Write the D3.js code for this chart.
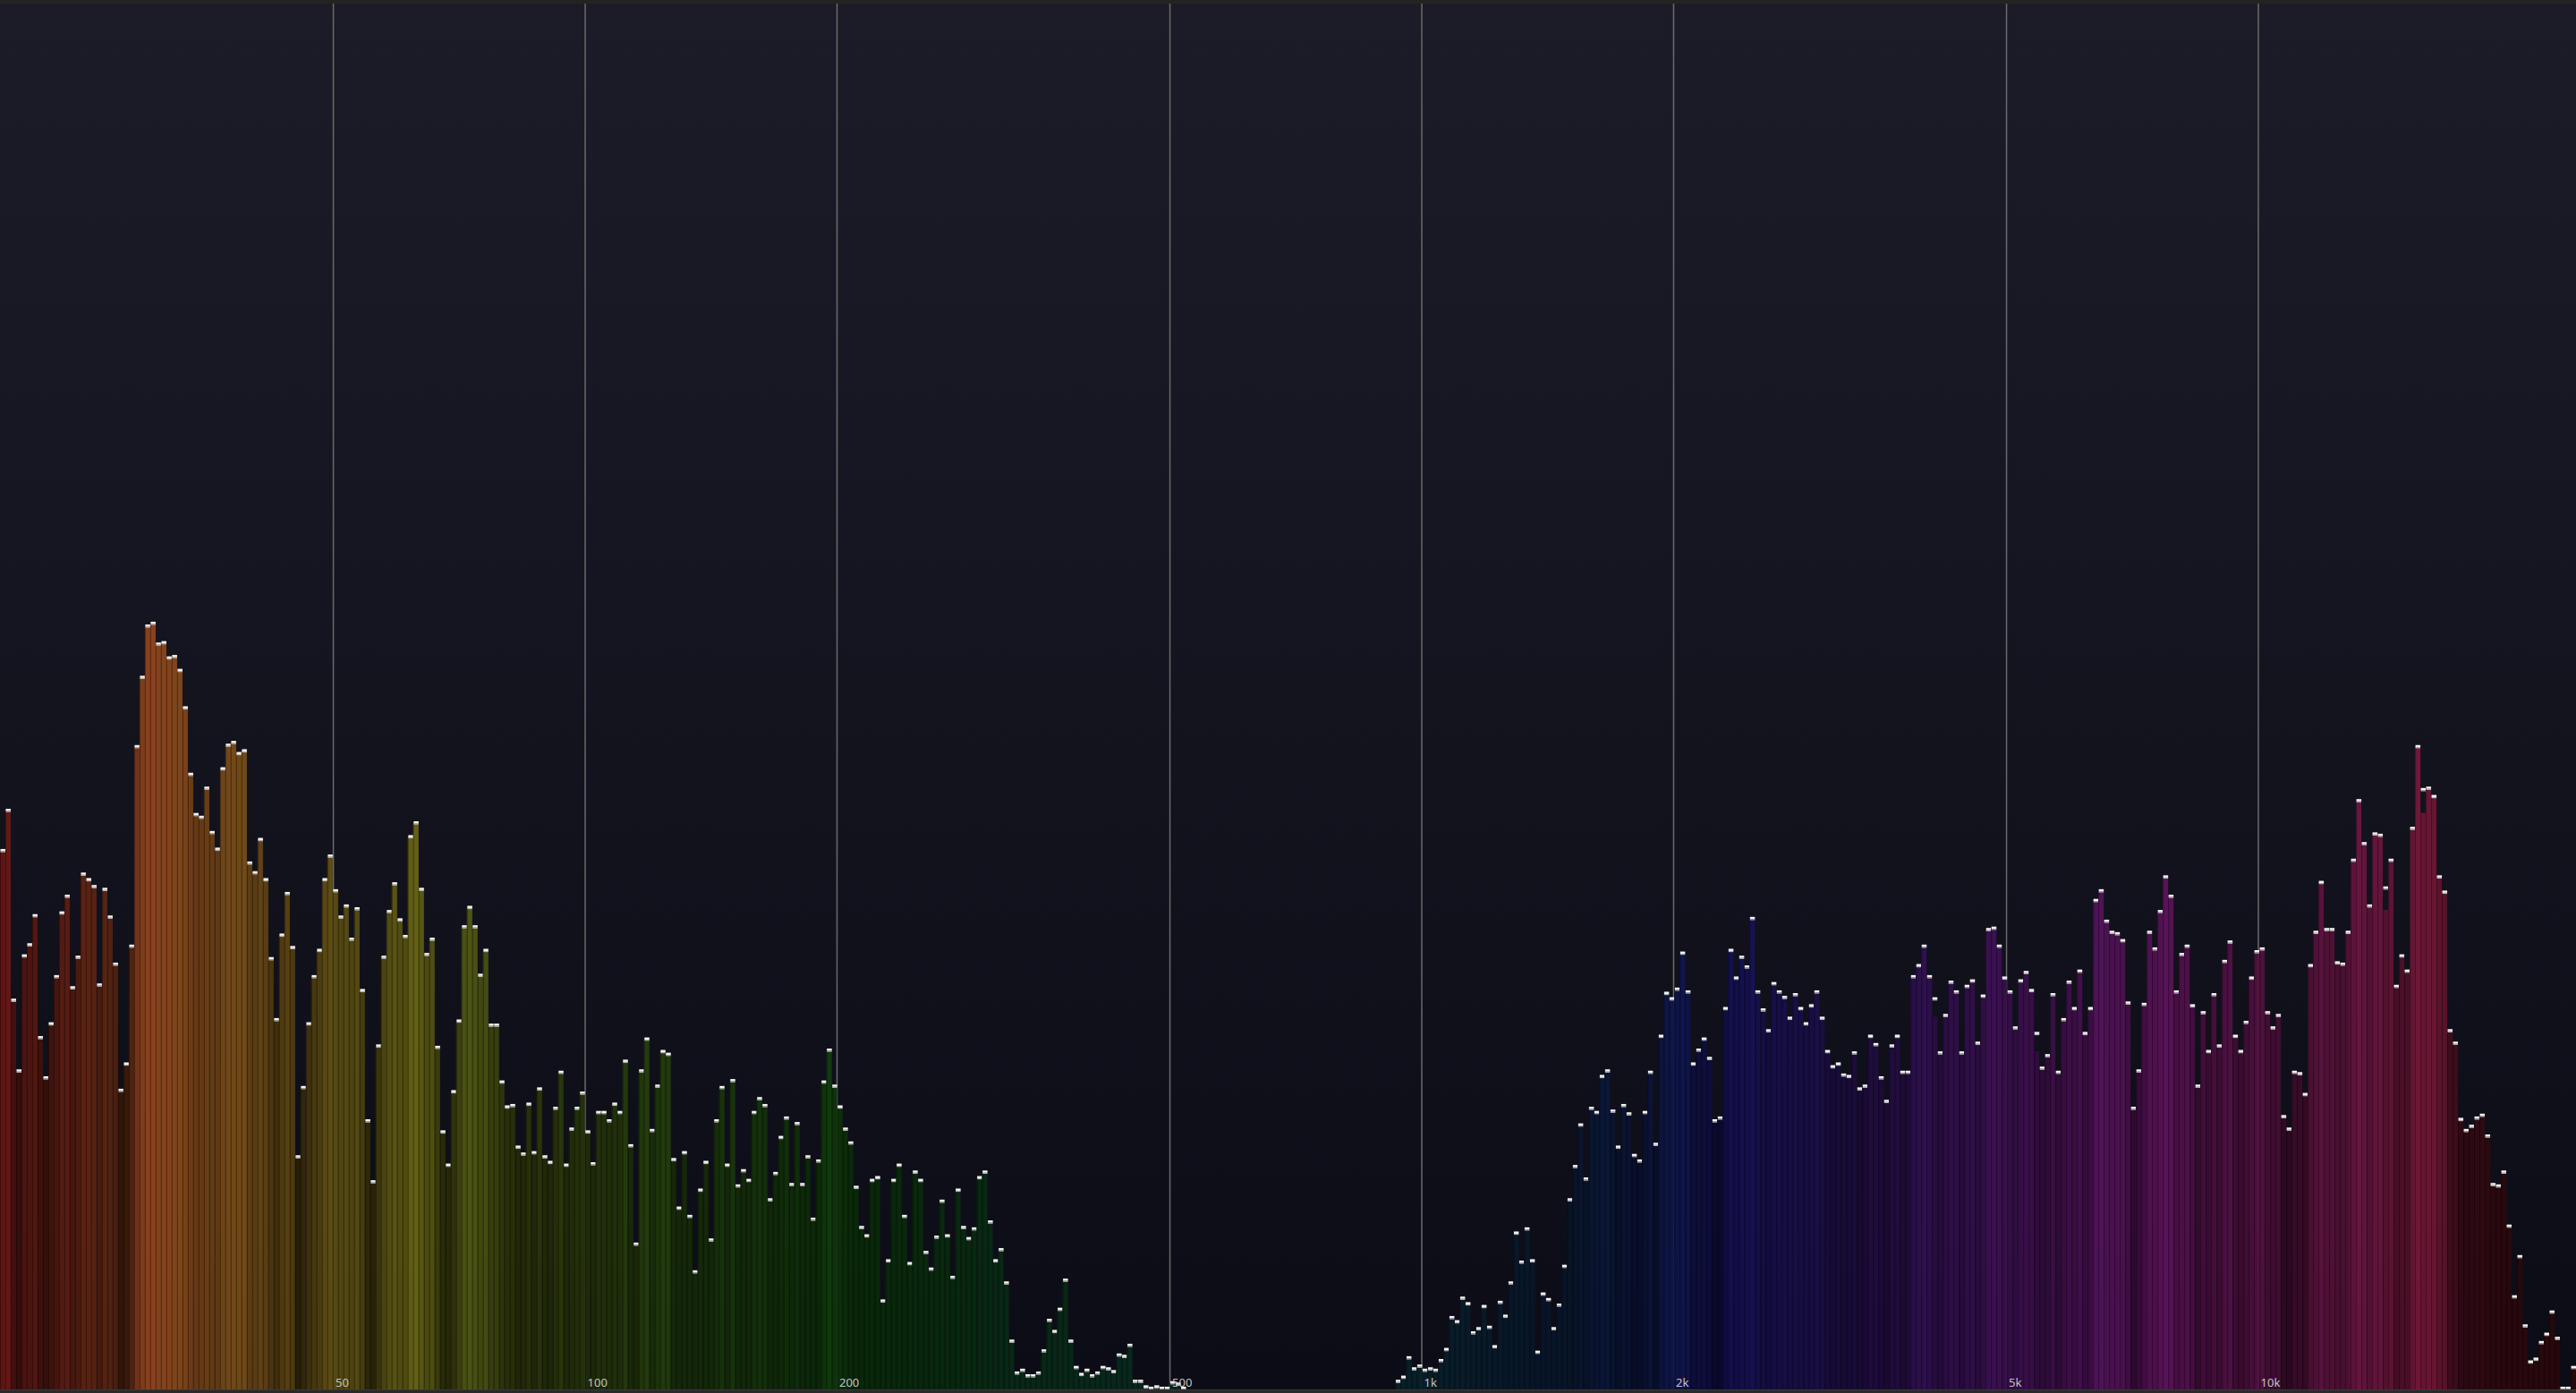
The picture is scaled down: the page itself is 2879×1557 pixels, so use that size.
<!DOCTYPE html>
<html>
<head>
<meta charset="utf-8">
<script src="https://cdn.jsdelivr.net/npm/d3@7"></script>
<style>
  html, body { margin: 0; padding: 0; background: #101019; overflow: hidden; }
  svg { display: block; }
</style>
</head>
<body>
<div id="spectrum"></div>
<script>
// Frequency range of the analyzer (Hz) and number of log-spaced bands
var F_MIN = 20;
var F_MAX = 24000;
var BAND_COUNT = 480;

var tickFreqs = [50, 100, 200, 500, 1000, 2000, 5000, 10000];
var tickLabels = ['50', '100', '200', '500', '1k', '2k', '5k', '10k'];

// Level of every band, 0..100 (% of plot height)
var levels = [
    38.9, 41.8, 28.1, 23.0, 31.3, 32.1, 34.2, 25.4, 22.5, 26.4,
    29.8, 34.4, 35.6, 29.0, 31.2, 37.2, 36.8, 36.3, 29.2, 36.1,
    34.1, 30.7, 21.6, 23.5, 32.0, 46.4, 51.4, 55.1, 55.3, 53.8,
    53.9, 52.8, 52.9, 51.9, 49.2, 44.4, 41.5, 41.3, 43.4, 40.2,
    39.0, 44.8, 46.5, 46.7, 45.9, 46.1, 38.0, 37.3, 39.7, 36.8,
    31.1, 26.7, 32.8, 35.8, 31.9, 16.8, 21.8, 26.4, 29.8, 31.7,
    36.8, 38.5, 36.0, 34.1, 34.9, 32.5, 34.7, 28.8, 19.4, 15.0,
    24.8, 31.2, 34.5, 36.5, 33.9, 32.7, 39.9, 40.9, 36.1, 31.4,
    32.5, 24.7, 18.6, 16.2, 21.5, 26.6, 33.4, 34.8, 33.4, 29.9,
    31.7, 26.3, 26.3, 22.2, 20.4, 20.5, 17.5, 17.0, 20.6, 17.1,
    21.7, 16.8, 16.4, 20.3, 22.9, 16.2, 18.8, 20.3, 21.4, 18.6,
    16.3, 20.0, 20.0, 19.4, 20.6, 20.0, 23.7, 17.6, 10.5, 23.0,
    25.3, 18.7, 21.9, 24.4, 24.2, 16.6, 13.1, 17.1, 12.5, 8.5,
    14.4, 16.4, 10.8, 19.4, 21.8, 16.2, 22.3, 14.7, 15.8, 15.1,
    20.0, 21.0, 20.5, 13.7, 15.6, 18.2, 19.6, 14.8, 19.2, 14.8,
    16.8, 12.3, 16.5, 22.2, 24.5, 21.9, 20.4, 18.8, 17.8, 14.6,
    11.7, 11.1, 15.1, 15.3, 6.4, 9.3, 15.1, 16.2, 12.5, 9.1,
    15.7, 15.1, 9.9, 8.7, 11.0, 13.6, 11.1, 8.1, 14.4, 11.7,
    10.9, 11.6, 15.3, 15.7, 12.1, 9.3, 10.1, 7.7, 3.5, 1.2,
    1.4, 1.0, 1.0, 1.2, 2.8, 5.0, 4.2, 5.8, 7.9, 3.5,
    1.6, 1.1, 1.4, 1.0, 1.2, 1.6, 1.5, 1.3, 2.5, 2.4,
    3.2, 0.6, 0.6, 0.2, 0.1, 0.2, 0.1, 0.1, 0.5, 0.4,
    0.1, 0, 0, 0, 0, 0, 0, 0, 0, 0,
    0, 0, 0, 0, 0, 0, 0, 0, 0, 0,
    0, 0, 0, 0, 0, 0, 0, 0, 0, 0,
    0, 0, 0, 0, 0, 0, 0, 0, 0, 0,
    0.6, 0.9, 2.3, 1.5, 1.7, 1.4, 1.5, 1.4, 2.1, 2.9,
    5.2, 4.9, 6.6, 6.2, 4.1, 4.4, 6.0, 4.5, 3.1, 6.3,
    5.3, 7.7, 11.3, 9.2, 11.6, 9.3, 2.7, 6.9, 6.5, 4.4,
    6.1, 8.9, 13.7, 16.1, 19.1, 15.2, 20.3, 20.0, 22.6, 23.0,
    20.1, 17.5, 20.5, 19.9, 16.9, 16.5, 20.0, 22.9, 17.7, 25.5,
    28.6, 28.2, 28.9, 31.5, 28.7, 23.5, 24.5, 25.3, 23.9, 19.4,
    19.6, 27.5, 31.7, 29.7, 31.2, 30.5, 34.0, 28.7, 27.4, 25.9,
    29.3, 28.7, 28.3, 26.8, 28.5, 27.5, 26.4, 27.7, 28.7, 26.8,
    24.4, 23.3, 23.5, 22.7, 22.6, 24.3, 21.7, 21.9, 25.5, 24.9,
    22.5, 20.8, 24.8, 25.5, 22.9, 22.9, 29.8, 30.6, 32.0, 29.8,
    26.9, 24.3, 27.0, 29.4, 28.7, 24.3, 29.1, 29.5, 25.0, 28.4,
    33.2, 33.3, 32.0, 29.7, 28.7, 26.1, 29.5, 30.1, 28.8, 24.4,
    23.2, 24.1, 28.5, 22.9, 26.7, 29.4, 27.5, 30.2, 25.7, 27.5,
    35.3, 36.0, 33.8, 33.0, 32.9, 32.4, 27.9, 20.3, 23.0, 27.8,
    33.0, 31.8, 34.5, 37.0, 35.6, 28.7, 31.4, 32.0, 27.7, 21.9,
    27.2, 24.4, 28.5, 24.8, 30.9, 32.3, 25.5, 24.4, 26.5, 29.7,
    31.6, 31.8, 27.2, 26.1, 27.0, 19.7, 18.8, 22.9, 22.8, 21.3,
    30.6, 33.0, 36.6, 33.2, 33.2, 30.8, 30.7, 33.0, 38.2, 42.5,
    39.4, 34.9, 40.1, 40.0, 34.6, 38.2, 29.1, 31.3, 30.2, 40.5,
    46.4, 41.6, 43.4, 42.8, 37.0, 35.9, 25.9, 25.0, 19.5, 18.7,
    19.0, 19.6, 19.8, 18.3, 14.8, 14.7, 15.7, 11.8, 6.7, 9.6,
    4.6, 2.0, 2.2, 3.4, 4.0, 5.6, 3.7, 0.1, 0.1, 1.6
];

// Peak-hold markers floating above their bar: [band, level]
var peakHolds = [[360, 28.2], [379, 25.7], [444, 36.2], [451, 43.3]];

var WIDTH = 2879;
var HEIGHT = 1557;
var TOP = 4;       // below the title strip
var BASE = 1553;   // bar baseline

var svg = d3.select('#spectrum').append('svg:svg')
    .attr('width', WIDTH)
    .attr('height', HEIGHT);

// Background gradient
var grad = svg.append('defs').append('linearGradient')
    .attr('id', 'bg')
    .attr('x1', 0).attr('y1', 0).attr('x2', 0).attr('y2', 1);
grad.append('stop').attr('offset', '0%').attr('stop-color', '#1c1c28');
grad.append('stop').attr('offset', '100%').attr('stop-color', '#0c0c16');

svg.append('rect').attr('width', WIDTH).attr('height', HEIGHT).attr('fill', 'url(#bg)');
svg.append('rect').attr('width', WIDTH).attr('height', TOP).attr('fill', '#232323');

// Scales
var x = d3.scaleLog().domain([F_MIN, F_MAX]).range([0, WIDTH]);
var y = d3.scaleLinear().domain([0, 100]).range([BASE, TOP]);
var hue = d3.scaleLinear().domain([0, WIDTH]).range([0, 360]);

// Bands are equal steps on the log axis
var ratio = Math.pow(F_MAX / F_MIN, 1 / BAND_COUNT);
var holdMap = new Map(peakHolds);
var bands = levels.map(function (v, i) {
    var f0 = F_MIN * Math.pow(ratio, i);
    var hold = holdMap.has(i) ? holdMap.get(i) : v;
    return { i: i, f0: f0, f1: f0 * ratio, level: v, peak: Math.max(v, hold) };
});

function barColor(d) {
    var cx = (x(d.f0) + x(d.f1)) / 2;
    var l = Math.max(0.10, 0.0064 * d.level - 0.012);
    return d3.hsl(hue(cx), 0.66, l);
}

// Grid lines (behind the bars)
var grid = svg.append('g')
    .attr('transform', 'translate(0,' + BASE + ')')
    .call(d3.axisBottom(x).tickValues(tickFreqs).tickSize(-(BASE - TOP)).tickFormat(''));
grid.select('.domain').remove();
grid.selectAll('.tick line').attr('stroke', '#6a6a6a').attr('stroke-width', 1.5);

// Bars
var bar = svg.append('g').attr('class', 'bars')
    .selectAll('g')
    .data(bands.filter(function (d) { return d.level > 0; }))
    .enter().append('g');

bar.append('rect')
    .attr('x', function (d) { return x(d.f0); })
    .attr('y', function (d) { return y(d.level); })
    .attr('width', function (d) { return x(d.f1) - x(d.f0); })
    .attr('height', function (d) { return y(0) - y(d.level); })
    .attr('fill', function (d) { return barColor(d).toString(); })
    .attr('fill-opacity', 0.93);

// darker seam on the left of every bar
bar.append('rect')
    .attr('x', function (d) { return x(d.f0); })
    .attr('y', function (d) { return y(d.level); })
    .attr('width', 1)
    .attr('height', function (d) { return y(0) - y(d.level); })
    .attr('fill', function (d) {
        var c = barColor(d);
        return d3.hsl(c.h, c.s, c.l * 0.62).toString();
    });

// Peak caps: white top, grey underline
bar.append('rect')
    .attr('x', function (d) { return x(d.f0) + 0.5; })
    .attr('y', function (d) { return y(d.peak) - 1.5; })
    .attr('width', function (d) { return x(d.f1) - x(d.f0) - 0.5; })
    .attr('height', 2.5)
    .attr('fill', '#f4f4f4');
bar.append('rect')
    .attr('x', function (d) { return x(d.f0) + 0.5; })
    .attr('y', function (d) { return y(d.peak) + 1; })
    .attr('width', function (d) { return x(d.f1) - x(d.f0) - 0.5; })
    .attr('height', 1.2)
    .attr('fill', '#b4b4b4');

// Bottom strip
svg.append('rect').attr('x', 0).attr('y', BASE).attr('width', WIDTH).attr('height', HEIGHT - BASE).attr('fill', '#2a2a2a');
svg.append('rect').attr('x', 0).attr('y', BASE).attr('width', WIDTH).attr('height', 1).attr('fill', '#3a3a3a');

// Frequency labels, right of each grid line
var labels = svg.append('g')
    .attr('transform', 'translate(0,' + BASE + ')')
    .call(d3.axisBottom(x).tickValues(tickFreqs).tickSize(0)
        .tickFormat(function (f, i) { return tickLabels[i]; }));
labels.select('.domain').remove();
labels.selectAll('.tick text')
    .attr('x', 2.5)
    .attr('y', -3)
    .attr('dy', 0)
    .attr('text-anchor', 'start')
    .attr('fill', '#c4c4c4')
    .style('font-family', '"Noto Sans", "Open Sans", sans-serif')
    .style('font-size', '13px');
</script>
</body>
</html>
